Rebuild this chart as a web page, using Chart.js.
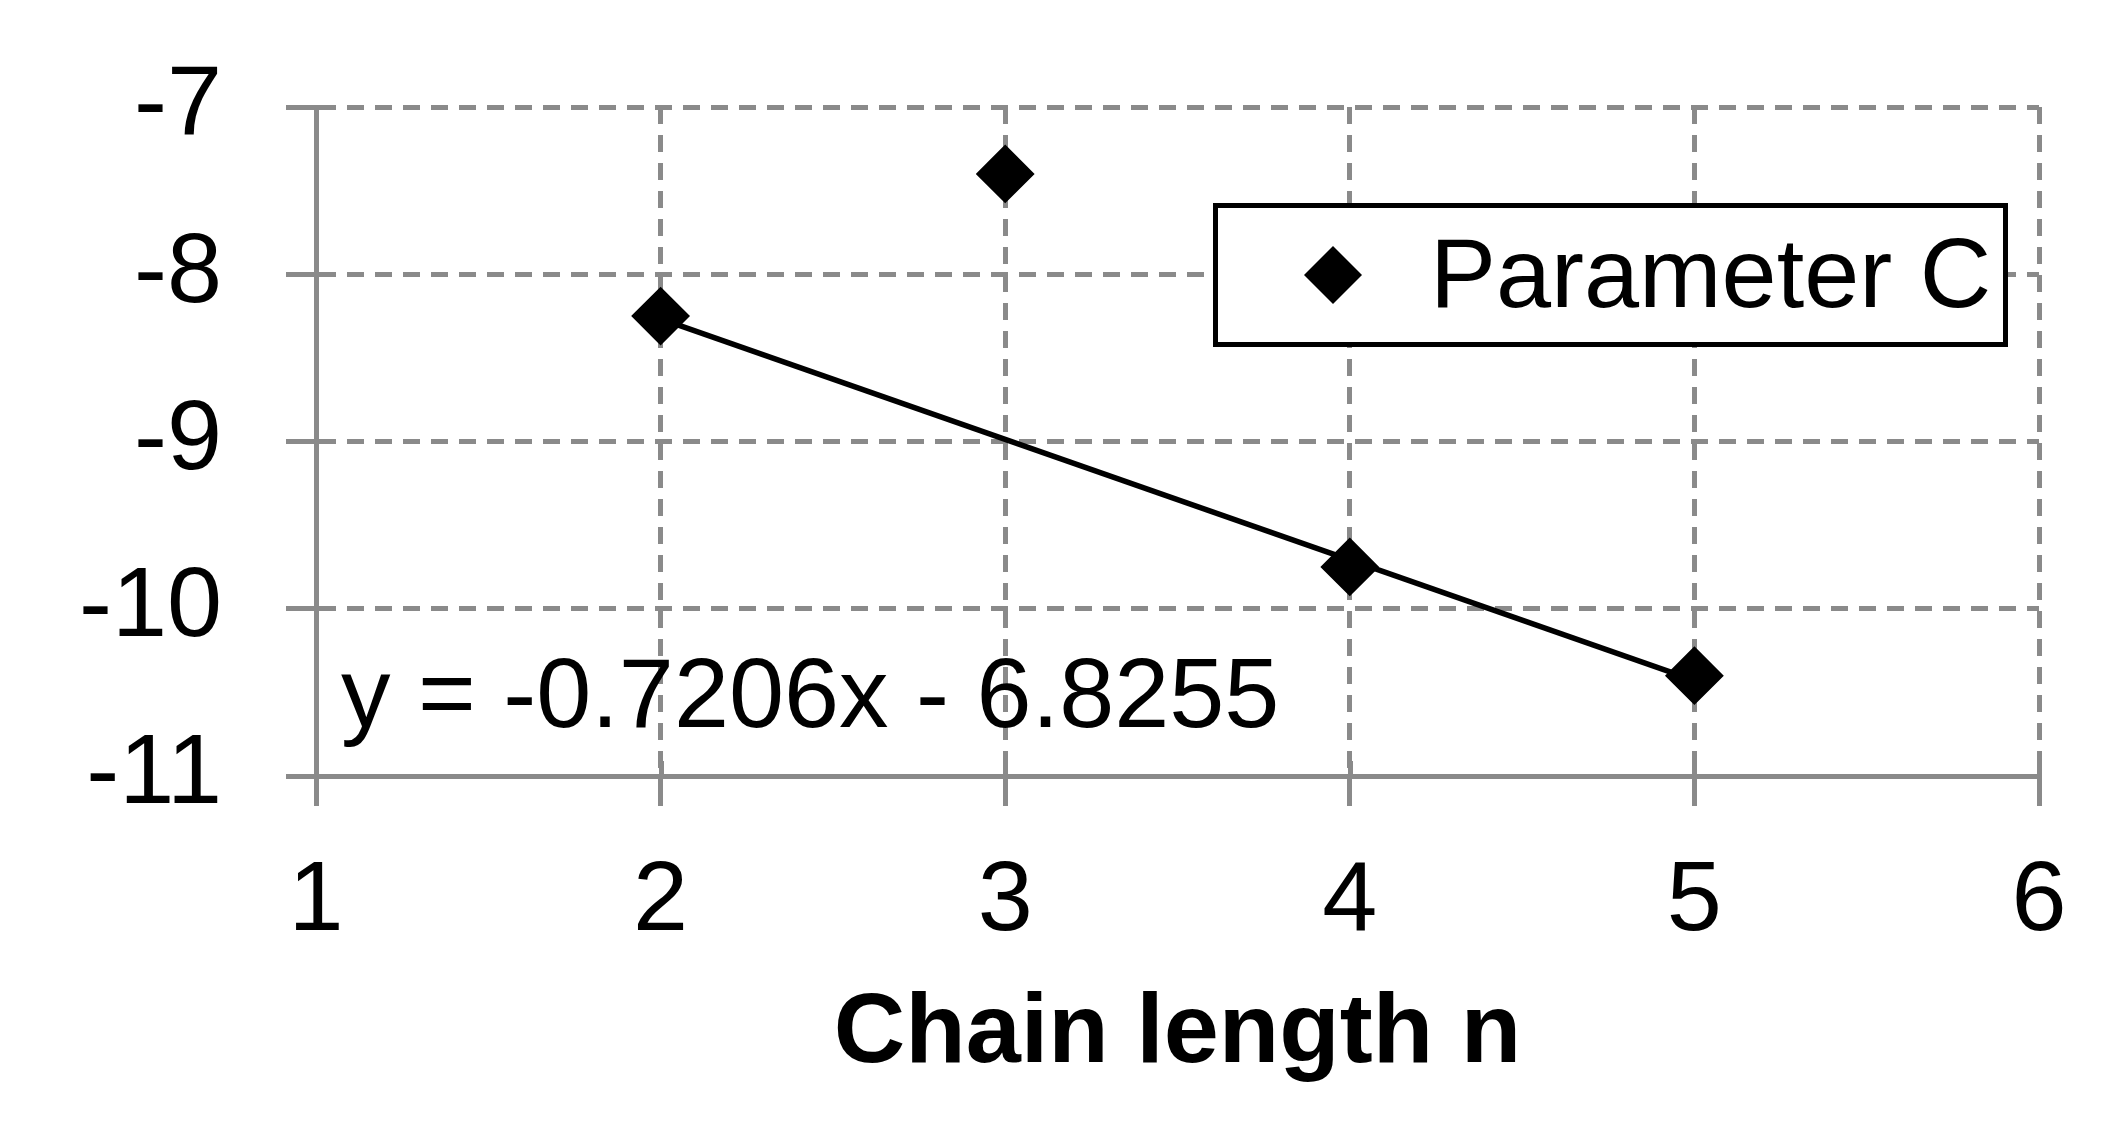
<!DOCTYPE html>
<html><head><meta charset="utf-8">
<script src="https://cdn.jsdelivr.net/npm/chart.js@4.4.0/dist/chart.umd.min.js"></script>
<style>html,body{margin:0;padding:0;background:#fff;}#wrap{width:2122px;height:1130px;}</style>
</head><body><div id="wrap"><canvas id="c" width="2122" height="1130"></canvas></div>
<script>
const chainLength = [2, 3, 4, 5];
const parameterC = [-8.25, -7.40, -9.75, -10.40];
const trendX = [2, 5];
const trendY = [-8.267, -10.428];
const xMin = 1, xMax = 6;
const yMin = -11, yMax = -7;
const seriesName = 'Parameter C';
const equationText = 'y = -0.7206x - 6.8255';
const xTitle = 'Chain length n';

const GRAY = '#8a8a8a';
const FONT = '"Liberation Sans", Arial, sans-serif';

const extras = {
  id: 'extras',
  beforeDatasetsDraw(chart) {
    const ctx = chart.ctx, xs = chart.scales.x, area = chart.chartArea;
    ctx.save();
    ctx.strokeStyle = GRAY; ctx.lineWidth = 5;
    for (let v = xMin; v <= xMax; v++) {
      const px = Math.round(xs.getPixelForValue(v)) + 0.5;
      ctx.beginPath(); ctx.moveTo(px, area.bottom); ctx.lineTo(px, area.bottom - 15); ctx.stroke();
    }
    ctx.restore();
  },
  afterDraw(chart) {
    const ctx = chart.ctx;
    ctx.save();
    // equation
    ctx.fillStyle = '#000';
    ctx.font = '99px ' + FONT;
    ctx.textBaseline = 'alphabetic';
    ctx.textAlign = 'left';
    ctx.fillText(equationText, 341, 727);
    // legend box
    ctx.fillStyle = '#fff';
    ctx.fillRect(1213, 203, 795, 144);
    ctx.strokeStyle = '#000'; ctx.lineWidth = 5;
    ctx.strokeRect(1215.5, 205.5, 790, 139);
    // legend marker
    const cx = 1333, cy = 275, r = 29;
    ctx.fillStyle = '#000';
    ctx.beginPath();
    ctx.moveTo(cx - r, cy); ctx.lineTo(cx, cy - r); ctx.lineTo(cx + r, cy); ctx.lineTo(cx, cy + r);
    ctx.closePath(); ctx.fill();
    ctx.fillText(seriesName, 1430, 307);
    ctx.restore();
  }
};

new Chart(document.getElementById('c'), {
  type: 'scatter',
  data: {
    datasets: [
      {
        label: seriesName,
        data: chainLength.map((x, i) => ({x, y: parameterC[i]})),
        pointStyle: 'rectRot',
        pointRadius: 28,
        pointBorderWidth: 2,
        backgroundColor: '#000',
        borderColor: '#000',
        showLine: false
      },
      {
        label: 'trend',
        type: 'line',
        data: trendX.map((x, i) => ({x, y: trendY[i]})),
        borderColor: '#000',
        borderWidth: 5.5,
        pointRadius: 0,
        fill: false
      }
    ]
  },
  options: {
    responsive: false,
    animation: false,
    devicePixelRatio: 1,
    locale: 'en-US',
    layout: { padding: { top: 107, right: 83, left: 0, bottom: 0 } },
    plugins: { legend: { display: false }, tooltip: { enabled: false } },
    scales: {
      x: {
        type: 'linear', min: xMin, max: xMax,
        afterFit(s) { s.height = 354; },
        ticks: { stepSize: 1, color: '#000', font: { family: FONT, size: 99 }, padding: 37, maxRotation: 0 },
        grid: { color: GRAY, lineWidth: 5, tickLength: 30, tickColor: GRAY, tickWidth: 5, tickBorderDash: [] },
        border: { display: true, color: GRAY, width: 5, dash: [17, 11] },
        title: { display: true, text: xTitle, color: '#000', font: { family: FONT, size: 99, weight: 'bold' }, padding: { top: 0, bottom: 36 } }
      },
      y: {
        type: 'linear', min: yMin, max: yMax,
        afterFit(s) { s.width = 316; },
        ticks: { stepSize: 1, color: '#000', font: { family: FONT, size: 99, lineHeight: 0.5 }, padding: 64 },
        grid: { color: GRAY, lineWidth: 5, tickLength: 30, tickColor: GRAY, tickWidth: 5, tickBorderDash: [] },
        border: { display: true, color: GRAY, width: 5, dash: [17, 11] }
      }
    }
  },
  plugins: [extras]
});
</script>
</body></html>
